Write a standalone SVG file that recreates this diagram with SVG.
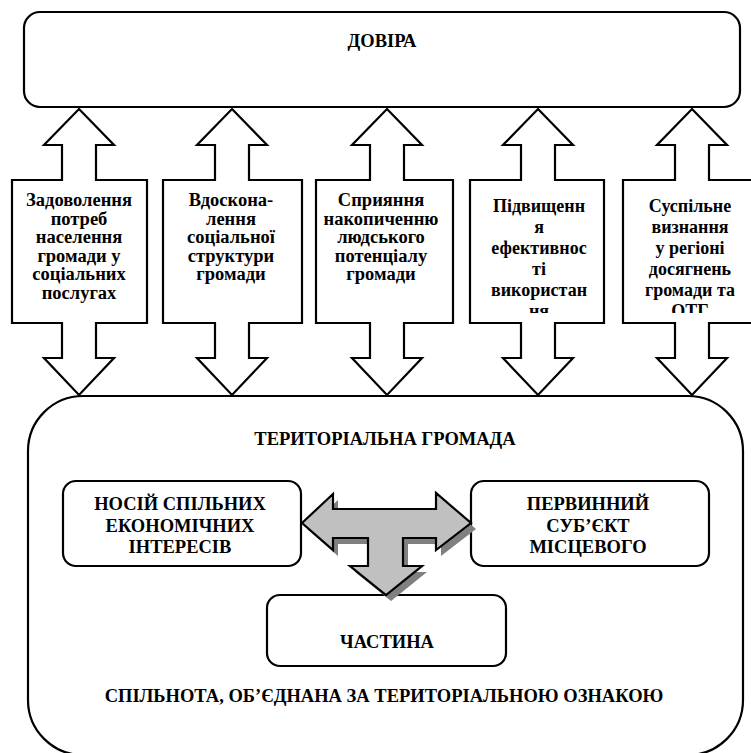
<svg xmlns="http://www.w3.org/2000/svg" width="751" height="753" viewBox="0 0 751 753">
<style>
.ln{fill:#fff;stroke:#000;stroke-width:2.2;stroke-linejoin:miter}
text{font-family:'Liberation Serif','Times New Roman',serif;font-weight:bold;fill:#000;text-anchor:middle}
.cap{font-size:18.5px}
.s1{font-size:18.5px}
.s2{font-size:18px}
</style>
<defs>
<clipPath id="c4"><rect x="470" y="182" width="134" height="131"/></clipPath>
<clipPath id="c5"><rect x="623" y="182" width="139" height="131"/></clipPath>
</defs>
<g id="top">
<rect class="ln" x="24" y="12" width="716" height="95" rx="16" ry="16"/>
<text class="cap" x="382" y="47">ДОВІРА</text>
</g>
<g id="community">
<rect class="ln" x="28" y="396" width="715" height="359" rx="55" ry="55"/>
<text class="cap" x="385" y="445">ТЕРИТОРІАЛЬНА ГРОМАДА</text>
<text class="cap" x="384" y="702">СПІЛЬНОТА, ОБ’ЄДНАНА ЗА ТЕРИТОРІАЛЬНОЮ ОЗНАКОЮ</text>
</g>
<g id="a1">
<path class="ln" d="M79,109 L114,145 L96,145 L96,180 L147,180 L147,323 L96,323 L96,358 L114,358 L79,395 L44,358 L62,358 L62,323 L12,323 L12,180 L62,180 L62,145 L44,145 Z"/>
<text class="s1"><tspan x="79" y="206">Задоволення</tspan><tspan x="79" y="224.5">потреб</tspan><tspan x="79" y="243">населення</tspan><tspan x="79" y="261.5">громади у</tspan><tspan x="79" y="280">соціальних</tspan><tspan x="79" y="298.5">послугах</tspan></text>
</g>
<g id="a2">
<path class="ln" d="M232,109 L267,145 L249,145 L249,180 L302,180 L302,323 L249,323 L249,358 L267,358 L232,395 L197,358 L215,358 L215,323 L163,323 L163,180 L215,180 L215,145 L197,145 Z"/>
<text class="s1"><tspan x="231" y="206">Вдоскона-</tspan><tspan x="231" y="224.5">лення</tspan><tspan x="231" y="243">соціальної</tspan><tspan x="231" y="261.5">структури</tspan><tspan x="231" y="280">громади</tspan></text>
</g>
<g id="a3">
<path class="ln" d="M387,109 L422,145 L404,145 L404,180 L453,180 L453,323 L404,323 L404,358 L422,358 L387,395 L352,358 L370,358 L370,323 L316,323 L316,180 L370,180 L370,145 L352,145 Z"/>
<text class="s1"><tspan x="381" y="206">Сприяння</tspan><tspan x="381" y="224.5">накопиченню</tspan><tspan x="381" y="243">людського</tspan><tspan x="381" y="261.5">потенціалу</tspan><tspan x="381" y="280">громади</tspan></text>
</g>
<g id="a4">
<path class="ln" d="M538,109 L573,145 L555,145 L555,180 L604,180 L604,323 L555,323 L555,358 L573,358 L538,395 L503,358 L521,358 L521,323 L470,323 L470,180 L521,180 L521,145 L503,145 Z"/>
<text class="s2" clip-path="url(#c4)"><tspan x="539" y="212">Підвищенн</tspan><tspan x="539" y="233">я</tspan><tspan x="539" y="254">ефективнос</tspan><tspan x="539" y="275">ті</tspan><tspan x="539" y="296">використан</tspan><tspan x="539" y="317">ня</tspan></text>
</g>
<g id="a5">
<path class="ln" d="M692,109 L727,145 L709,145 L709,180 L762,180 L762,323 L709,323 L709,358 L727,358 L692,395 L657,358 L675,358 L675,323 L623,323 L623,180 L675,180 L675,145 L657,145 Z"/>
<text class="s2" clip-path="url(#c5)"><tspan x="690" y="212">Суспільне</tspan><tspan x="690" y="233">визнання</tspan><tspan x="690" y="254">у регіоні</tspan><tspan x="690" y="275">досягнень</tspan><tspan x="690" y="296">громади та</tspan><tspan x="690" y="317">ОТГ</tspan></text>
</g>
<g id="n-left">
<rect class="ln" x="63" y="481" width="238" height="85" rx="13" ry="13"/>
<text class="cap"><tspan x="180" y="510">НОСІЙ СПІЛЬНИХ</tspan><tspan x="180" y="531.5">ЕКОНОМІЧНИХ</tspan><tspan x="180" y="553">ІНТЕРЕСІВ</tspan></text>
</g>
<g id="n-right">
<rect class="ln" x="471" y="481" width="238" height="85" rx="13" ry="13"/>
<text class="cap"><tspan x="588" y="510">ПЕРВИННИЙ</tspan><tspan x="588" y="531.5">СУБ’ЄКТ</tspan><tspan x="588" y="553">МІСЦЕВОГО</tspan></text>
</g>
<g id="n-part">
<rect class="ln" x="267" y="595" width="239" height="71" rx="13" ry="13"/>
<text class="cap" x="387" y="648">ЧАСТИНА</text>
</g>
<g id="connectors">
<path fill="#808080" transform="translate(5,6)" d="M302,523 L333,494 L333,509 L436,509 L436,493 L471,523 L436,550 L436,538 L403,538 L403,566 L422,566 L386,595 L350,566 L368,566 L368,538 L333,538 L333,550 Z"/>
<path fill="#c0c0c0" stroke="#000" stroke-width="2.2" stroke-linejoin="miter" d="M302,523 L333,494 L333,509 L436,509 L436,493 L471,523 L436,550 L436,538 L403,538 L403,566 L422,566 L386,595 L350,566 L368,566 L368,538 L333,538 L333,550 Z"/>
</g>
</svg>
